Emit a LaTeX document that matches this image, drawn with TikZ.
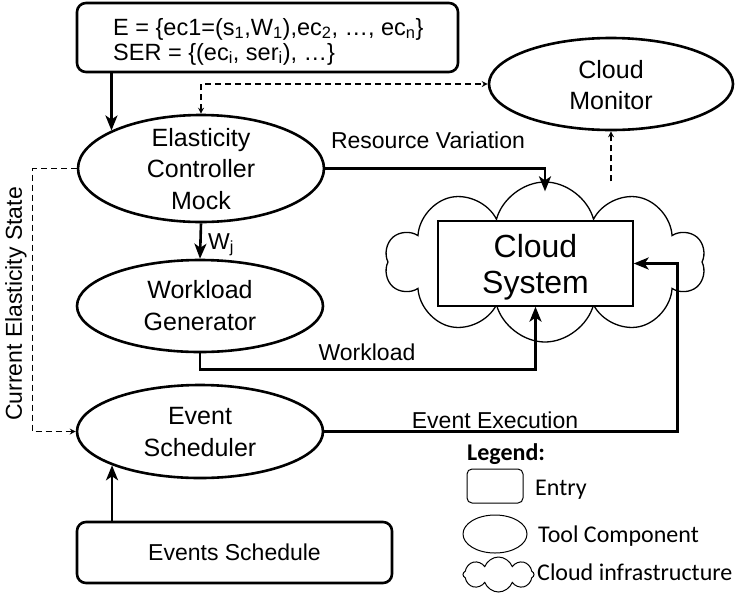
\documentclass[tikz,border=0pt]{standalone}
\usepackage{fontspec}
\setmainfont{Liberation Sans}
\newfontfamily\legendfont{Carlito}
\usetikzlibrary{shapes.geometric,shapes.symbols,arrows.meta,calc}
\tikzset{
  btip/.tip={Stealth[length=15pt,width=12pt,inset=4pt]},
  dtip/.tip={Stealth[length=6pt,width=6pt,inset=2pt]},
}
\begin{document}
\begin{tikzpicture}[x=1pt,y=-1pt,
  comp/.style={ellipse,draw,line width=2.6pt,minimum width=246pt,inner sep=0pt},
  comptext/.style={align=center,font=\fontsize{25}{31.5}\selectfont,inner sep=0pt},
  entrybox/.style={draw,rounded corners=9pt,line width=2.6pt,inner sep=0pt},
  conn/.style={line width=2.6pt,-btip},
  dconn/.style={line width=1.3pt,dash pattern=on 6pt off 4pt,-dtip},
  lbl/.style={font=\fontsize{23}{27}\selectfont,inner sep=0pt},
  entrytxt/.style={font=\fontsize{23.5}{25}\selectfont,inner sep=0pt,anchor=base west},
  leg/.style={font=\legendfont\fontsize{24}{28}\selectfont,inner sep=0pt,anchor=base west},
]
\useasboundingbox (0,0) rectangle (735,595);

% cloud infrastructure
\node[cloud,draw,line width=1.3pt,cloud puffs=10,cloud puff arc=150,aspect=2,
      minimum width=320pt,minimum height=160pt,inner sep=0pt] (cloud) at (545,262) {};
\node[draw,fill=white,line width=1.3pt,minimum width=195pt,minimum height=85pt,inner sep=0pt] (cs) at (535.5,263.5) {};
\node[align=center,font=\fontsize{32}{36}\selectfont,inner sep=0pt] (cst) at (535.5,267) {Cloud\\System};

% entry box
\node[entrybox,minimum width=381pt,minimum height=69pt] (entry) at (267.5,37.5) {};
\node[entrytxt] (entrya) at (113,35) {E = \{ec1=(s\textsubscript{1},W\textsubscript{1}),ec\textsubscript{2}, …, ec\textsubscript{n}\}};
\node[entrytxt] (entryb) at (113,60) {SER = \{(ec\textsubscript{i}, ser\textsubscript{i}), …\}};

% components
\node[comp,minimum height=107pt] (ecm) at (201,168.5) {};
\node[comptext] (ecmt) at (201,169) {Elasticity\\Controller\\Mock};
\node[comp,minimum height=92pt] (wg) at (200,306) {};
\node[comptext] (wgt) at (200,305.5) {Workload\\Generator};
\node[comp,minimum height=93pt] (es) at (200,431.5) {};
\node[comptext] (est) at (200,432) {Event\\Scheduler};
\node[comp,minimum width=244pt,minimum height=92pt] (cm) at (611,84) {};
\node[comptext] (cmt) at (611,85) {Cloud\\Monitor};

% events schedule
\node[entrybox,minimum width=315pt,minimum height=61pt,font=\fontsize{23}{27}\selectfont] (sched) at (234.5,552.5) {Events Schedule};

% connectors
\draw[conn] (ecm.157 |- entry.south) -- (ecm.157);
\draw[conn] (es.201 |- sched.north) -- (es.201);
\draw[dconn,dtip-dtip] (ecm.north) |- (cm.west);
\coordinate (rvend) at ($(cloud.north)+(0,10)$);
\draw[conn] (ecm.east) -| (rvend);
\node[lbl,anchor=base] (rvl) at (428,148) {Resource Variation};
\draw[conn] (ecm.south) -- (wg.north);
\node[lbl,anchor=base west] (wjl) at (208,249) {W\textsubscript{j}};
\draw[conn] (wg.south) -- ++(0,16) -| (cs.south);
\node[lbl,anchor=base] (wll) at (367,360) {Workload};
\draw[conn] (es.east) -| ($(cs.east)+(44,0)$) -- (cs.east);
\node[lbl,anchor=base] (eel) at (495,428) {Event Execution};
\draw[dconn] (ecm.west) -- ++(-44,0) |- (es.west);
\node[lbl,rotate=90] (cesl) at (16,304) {Current Elasticity State};
\draw[dconn] (cm.south |- cloud.north) -- (cm.south);

% legend
\node[leg,font=\legendfont\bfseries\fontsize{24}{28}\selectfont] (legt) at (467,460) {Legend:};
\node[draw,rounded corners=5pt,line width=1pt,minimum width=56pt,minimum height=34pt,inner sep=0pt] (lege) at (495,486) {};
\node[leg] (legel) at (535,495) {Entry};
\node[ellipse,draw,line width=1pt,minimum width=64pt,minimum height=38pt,inner sep=0pt] (legc) at (495,534) {};
\node[leg] (legcl) at (538,542) {Tool Component};
\node[cloud,draw,line width=1pt,cloud puffs=8,cloud puff arc=140,aspect=2,
      minimum width=71pt,minimum height=35pt,inner sep=0pt] (legk) at (498.5,574.5) {};
\node[leg] (legkl) at (537,580) {Cloud infrastructure};
\end{tikzpicture}
\end{document}
